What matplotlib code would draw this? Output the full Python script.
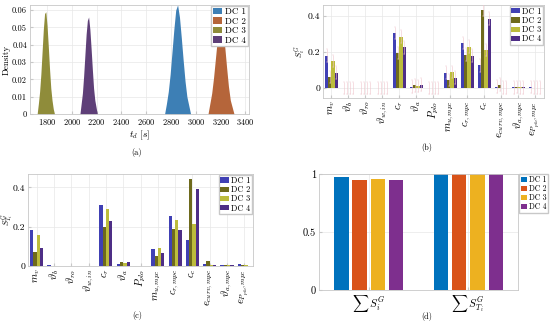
import numpy as np
import matplotlib.pyplot as plt

plt.rcParams['font.family'] = 'serif'
plt.rcParams['font.serif'] = ['cmr10', 'DejaVu Serif']
plt.rcParams['mathtext.fontset'] = 'cm'
plt.rcParams['axes.formatter.use_mathtext'] = True

dcs = ['DC 1', 'DC 2', 'DC 3', 'DC 4']

# (a) histograms of t_d, bin heights (bin centres)
hist_start = [2740, 3090, 1715, 2060]
hist_width = [15, 15, 10, 10]
hist_dc1 = [0.0, 0.006, 0.013, 0.023, 0.036, 0.049, 0.060, 0.063, 0.056, 0.044, 0.031, 0.019, 0.010, 0.005, 0.0]
hist_dc2 = [0.0, 0.006, 0.012, 0.021, 0.032, 0.043, 0.052, 0.055, 0.049, 0.039, 0.027, 0.016, 0.008, 0.004, 0.0]
hist_dc3 = [0.0, 0.006, 0.013, 0.023, 0.036, 0.049, 0.058, 0.059, 0.051, 0.039, 0.026, 0.015, 0.008, 0.003, 0.0]
hist_dc4 = [0.0, 0.006, 0.012, 0.022, 0.034, 0.046, 0.054, 0.056, 0.049, 0.038, 0.026, 0.015, 0.008, 0.004, 0.0]

# (b)/(c) sensitivity indices
params = [r'$m_v$', r'$\vartheta_b$', r'$\vartheta_{ro}$', r'$\vartheta_{w,in}$', r'$c_r$',
          r'$\vartheta_a$', r'$P_{plo}$', r'$m_{u,mpc}$', r'$c_{r,mpc}$', r'$c_c$',
          r'$e_{curv,mpc}$', r'$\vartheta_{a,mpc}$', r'$e_{P_{plo},mpc}$']
si_dc1 = [0.180, 0.0, 0.0, 0.0, 0.305, 0.008, 0.0, 0.085, 0.250, 0.125, 0.008, 0.003, 0.006]
si_dc2 = [0.060, 0.0, 0.0, 0.0, 0.195, 0.015, 0.0, 0.045, 0.185, 0.435, 0.018, 0.005, 0.002]
si_dc3 = [0.150, 0.0, 0.0, 0.0, 0.285, 0.012, 0.0, 0.088, 0.230, 0.210, 0.002, 0.004, 0.002]
si_dc4 = [0.085, 0.0, 0.0, 0.0, 0.225, 0.018, 0.0, 0.058, 0.180, 0.385, 0.002, 0.004, 0.001]
si_ci = [0.035, 0.035, 0.035, 0.035, 0.035, 0.035, 0.035, 0.035, 0.035, 0.035, 0.035, 0.035, 0.035]

sti_dc1 = [0.185, 0.003, 0.0, 0.0, 0.310, 0.010, 0.0, 0.089, 0.252, 0.131, 0.010, 0.004, 0.010]
sti_dc2 = [0.069, 0.0, 0.0, 0.0, 0.200, 0.020, 0.0, 0.052, 0.187, 0.440, 0.024, 0.007, 0.004]
sti_dc3 = [0.160, 0.0, 0.0, 0.0, 0.290, 0.013, 0.0, 0.091, 0.232, 0.215, 0.003, 0.006, 0.003]
sti_dc4 = [0.092, 0.0, 0.0, 0.0, 0.230, 0.022, 0.0, 0.064, 0.185, 0.392, 0.004, 0.007, 0.002]

# (d) sums
sums = [r'$\sum\, S_i^G$', r'$\sum\, S_{T_i}^G$']
sum_dc1 = [0.970, 0.999]
sum_dc2 = [0.950, 0.999]
sum_dc3 = [0.960, 0.999]
sum_dc4 = [0.950, 0.999]

hist_colors = ['#3d7fb5', '#b5653a', '#8f8c3a', '#5e3f78']
bar_colors = ['#4040b4', '#6e6a1c', '#bcbc3c', '#4e2e86']
sum_colors = ['#0072BD', '#D95319', '#EDB120', '#7E2F8E']


def style(ax, size=7):
    ax.grid(True, color='#e8e8e8', linewidth=0.5)
    ax.set_axisbelow(True)
    for s in ax.spines.values():
        s.set_color('#c8c8c8')
        s.set_linewidth(0.6)
    ax.tick_params(direction='in', length=2, color='#c8c8c8', labelsize=size, pad=2)


fig = plt.figure(figsize=(5.5, 3.24), dpi=100)

# (a)
ax = fig.add_axes([0.054, 0.648, 0.398, 0.337])
for k, h in enumerate([hist_dc1, hist_dc2, hist_dc3, hist_dc4]):
    centres = hist_start[k] + hist_width[k] * (np.arange(len(h)) + 0.5)
    ax.fill_between(centres, h, color=hist_colors[k], linewidth=0, label=dcs[k], zorder=2)
ax.set_xlim(1660, 3425)
ax.set_ylim(0, 0.063)
ax.set_xticks(range(1800, 3401, 200))
ax.set_yticks([0, 0.01, 0.02, 0.03, 0.04, 0.05, 0.06])
ax.set_yticklabels(['0', '0.01', '0.02', '0.03', '0.04', '0.05', '0.06'])
style(ax, 6)
ax.set_xlabel(r'$t_d\ [s]$', fontsize=7, labelpad=1)
ax.set_ylabel('Density', fontsize=6.5)
ax.yaxis.set_label_coords(-0.088, 0.5)
ax.legend(loc='upper right', fontsize=6.5, handlelength=1.0, handleheight=0.8,
          borderpad=0.2, labelspacing=0.1, handletextpad=0.3, borderaxespad=0.1,
          fancybox=False, edgecolor='#c8c8c8', framealpha=1)


def sens_panel(ax, series, ylabel, ci=None):
    x = np.arange(1, len(params) + 1)
    w = 0.19
    for k, vals in enumerate(series):
        pos = x + (k - 1.5) * w
        ax.bar(pos, vals, width=w, color=bar_colors[k], label=dcs[k], zorder=2)
        if ci is not None:
            ax.errorbar(pos, vals, yerr=ci, fmt='none', ecolor='#f0c4cb',
                        elinewidth=0.4, capsize=0.6, capthick=0.3, zorder=3)
    ax.set_xlim(0.5, len(params) + 0.5)
    ax.set_xticks(x)
    ax.set_yticks([0, 0.2, 0.4])
    ax.set_yticklabels(['0', '0.2', '0.4'])
    style(ax, 7)
    ax.set_xticklabels(params, rotation=90, fontsize=7.5)
    ax.set_ylabel(ylabel, fontsize=6)
    ax.legend(loc='upper right', fontsize=6, handlelength=1.0, handleheight=0.6,
              borderpad=0.2, labelspacing=0.1, handletextpad=0.3, borderaxespad=0.1,
              fancybox=False, edgecolor='#c8c8c8', framealpha=1)


# (b)
ax = fig.add_axes([0.587, 0.698, 0.402, 0.287])
sens_panel(ax, [si_dc1, si_dc2, si_dc3, si_dc4], r'$S_i^G$', ci=si_ci)
ax.set_ylim(-0.055, 0.462)
ax.yaxis.set_label_coords(-0.072, 0.5)

# (c)
ax = fig.add_axes([0.051, 0.179, 0.409, 0.284])
sens_panel(ax, [sti_dc1, sti_dc2, sti_dc3, sti_dc4], r'$S_{T_i}^G$')
ax.set_ylim(0, 0.468)
ax.yaxis.set_label_coords(-0.06, 0.5)

# (d)
ax = fig.add_axes([0.580, 0.105, 0.362, 0.358])
x = np.arange(1, len(sums) + 1)
for k, vals in enumerate([sum_dc1, sum_dc2, sum_dc3, sum_dc4]):
    ax.bar(x + (k - 1.5) * 0.184, vals, width=0.145, color=sum_colors[k], label=dcs[k])
ax.set_xlim(0.5, 2.5)
ax.set_ylim(0, 1)
ax.set_xticks(x)
ax.set_yticks([0, 0.5, 1])
ax.set_yticklabels(['0', '0.5', '1'])
style(ax, 7.5)
ax.set_xticklabels(sums, fontsize=8)
ax.legend(loc='upper left', bbox_to_anchor=(1.005, 1.0), fontsize=5.5, handlelength=0.8,
          handleheight=0.6, borderpad=0.2, labelspacing=0.1, handletextpad=0.3,
          borderaxespad=0.0, fancybox=False, edgecolor='#c8c8c8', framealpha=1)

for lab, (fx, fy) in zip(['(a)', '(b)', '(c)', '(d)'],
                         [(0.249, 0.530), (0.776, 0.545), (0.249, 0.025), (0.776, 0.022)]):
    fig.text(fx, fy, lab, fontsize=6, fontweight='bold', ha='center', va='center')

fig.savefig('out.png', dpi=100)
